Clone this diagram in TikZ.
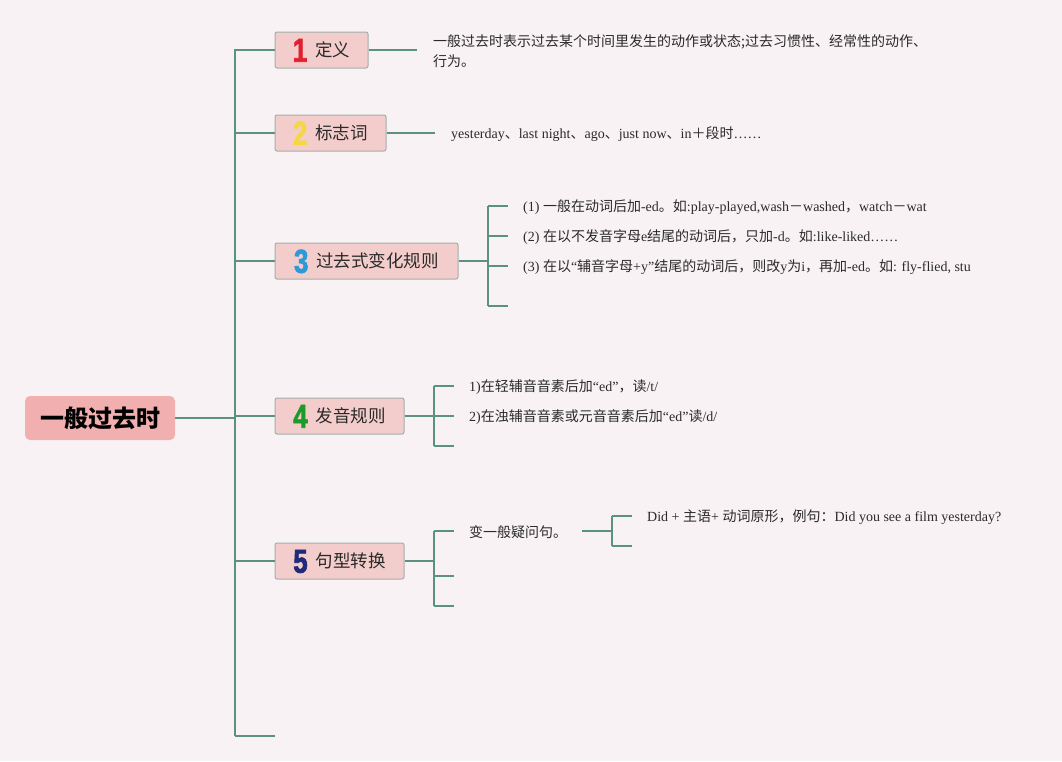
\documentclass[tikz,border=0pt]{standalone}
\usepackage{fontspec}
\setmainfont{Liberation Serif}
\newfontfamily\cjk{Noto Sans CJK SC}
\newfontfamily\digitfont{Liberation Sans}[BoldFeatures={FakeBold=2.5}]
\definecolor{bg}{HTML}{F9F2F5}
\definecolor{lc}{HTML}{5A9180}
\definecolor{nf}{HTML}{F3CDCB}
\definecolor{bc}{HTML}{A0B0AA}
\definecolor{rootf}{HTML}{F2AFAF}
\definecolor{tc}{HTML}{2A2A2A}
\definecolor{d1}{HTML}{E0202F}
\definecolor{d2}{HTML}{F5D742}
\definecolor{d3}{HTML}{2B9AD6}
\definecolor{d4}{HTML}{1E9A2A}
\definecolor{d5}{HTML}{1E2A7A}
\newcommand\bignum[2]{\raisebox{-5pt}[0pt][0pt]{\digitfont\bfseries\fontsize{33}{33}\selectfont\color{#1}\scalebox{0.78}[1]{#2}}}
\newcommand\zh[1]{{\cjk #1}}
\tikzset{
  conn/.style={draw=lc, line width=1.6pt},
  topic/.style={draw=bc, fill=nf, line width=1pt, rounded corners=2pt, minimum height=36pt, inner sep=0pt, text=tc, font=\cjk\fontsize{17.5}{20}\selectfont},
  leaf/.style={anchor=west, inner sep=0pt, text=tc, font=\fontsize{14}{20}\selectfont, align=left},
}
\begin{document}
\begin{tikzpicture}[x=1pt,y=-1pt]
\fill[bg] (0,0) rectangle (1062,761);
\useasboundingbox (0,0) rectangle (1062,761);

\node[fill=rootf, rounded corners=5pt, minimum width=150pt, minimum height=44pt, inner sep=0pt, font=\cjk\bfseries\fontsize{24}{26}\selectfont] (root) at (100,418) {一般过去时};

\coordinate (ttop) at (235,49);
\coordinate (tbot) at (235,736);
\coordinate (tend) at (275,736);

\node[topic, minimum width=93pt] (n1) at (321.5,50) {\bignum{d1}{1}\hspace{8pt}定义};
\node[topic, minimum width=111pt] (n2) at (330.5,133) {\bignum{d2}{2}\hspace{8pt}标志词};
\node[topic, minimum width=183pt] (n3) at (366.5,261) {\bignum{d3}{3}\hspace{8pt}过去式变化规则};
\node[topic, minimum width=129pt] (n4) at (339.5,416) {\bignum{d4}{4}\hspace{8pt}发音规则};
\node[topic, minimum width=129pt] (n5) at (339.5,561) {\bignum{d5}{5}\hspace{8pt}句型转换};

\draw[conn] (ttop) -- (tbot);
\draw[conn] (root.east) -- (root.east -| ttop);
\draw[conn] (tbot) -- (tend);
\foreach \n in {n1,n2,n3,n4,n5} \draw[conn] (\n.west -| ttop) -- (\n.west);

% 1
\coordinate (e1) at (417,50);
\draw[conn] (n1.east) -- (e1);
\node[leaf] (t1) at (433,51) {\zh{一般过去时表示过去某个时间里发生的动作或状态;过去习惯性、经常性的动作、}\\\zh{行为。}};

% 2
\coordinate (e2) at (435,133);
\draw[conn] (n2.east) -- (e2);
\node[leaf] (t2) at (451,134) {yesterday\zh{、}last night\zh{、}ago\zh{、}just now\zh{、}in\zh{＋段时}……};

% 3
\coordinate (b3) at (488,261);
\draw[conn] (n3.east) -- (b3);
\draw[conn] (488,206) -- (488,306);
\foreach \y in {206,236,266,306} \draw[conn] (488,\y) -- (508,\y);
\node[leaf] (t31) at (523,207) {(1) \zh{一般在动词后加}-ed\zh{。如}:play-played,wash\zh{－}washed\zh{，}watch\zh{－}wat};
\node[leaf] (t32) at (523,237) {(2) \zh{在以不发音字母}e\zh{结尾的动词后，只加}-d\zh{。如}:like-liked……};
\node[leaf] (t33) at (523,267) {(3) \zh{在以}“\zh{辅音字母}+y”\zh{结尾的动词后，则改}y\zh{为}i\zh{，再加}-ed\zh{。如}: fly-flied, stu};

% 4
\coordinate (b4) at (434,416);
\draw[conn] (n4.east) -- (b4);
\draw[conn] (434,386) -- (434,446);
\foreach \y in {386,416,446} \draw[conn] (434,\y) -- (454,\y);
\node[leaf] (t41) at (469,387) {1)\zh{在轻辅音音素后加}“ed”\zh{，读}/t/};
\node[leaf] (t42) at (469,417) {2)\zh{在浊辅音音素或元音音素后加}“ed”\zh{读}/d/};

% 5
\coordinate (b5) at (434,561);
\draw[conn] (n5.east) -- (b5);
\draw[conn] (434,531) -- (434,606);
\foreach \y in {531,576,606} \draw[conn] (434,\y) -- (454,\y);
\node[leaf] (q) at (469,532) {\zh{变一般疑问句。}};
\coordinate (q1) at (582,531);
\coordinate (q2) at (612,531);
\draw[conn] (q1) -- (q2);
\draw[conn] (612,516) -- (612,546);
\foreach \y in {516,546} \draw[conn] (612,\y) -- (632,\y);
\node[leaf] (t51) at (647,517) {Did + \zh{主语}+ \zh{动词原形，例句：}Did you see a film yesterday?};
\end{tikzpicture}
\end{document}
